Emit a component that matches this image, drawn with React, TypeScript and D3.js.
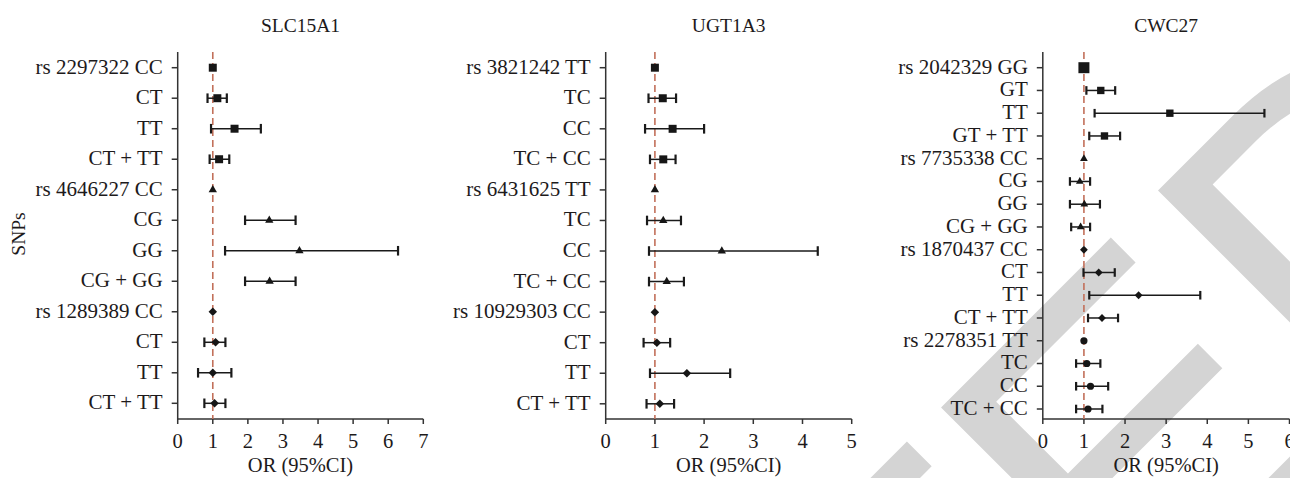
import * as d3 from 'd3'
import React, { useEffect, useRef } from 'react'

// SLC15A1
const slcLabels = ['rs 2297322 CC', 'CT', 'TT', 'CT + TT', 'rs 4646227 CC', 'CG', 'GG', 'CG + GG', 'rs 1289389 CC', 'CT', 'TT', 'CT + TT']
const slcOR = [1, 1.13, 1.62, 1.18, 1, 2.61, 3.47, 2.62, 1, 1.08, 1, 1.05]
const slcLow = [null, 0.85, 0.95, 0.91, null, 1.92, 1.35, 1.92, null, 0.76, 0.58, 0.76]
const slcHigh = [null, 1.4, 2.37, 1.47, null, 3.36, 6.28, 3.36, null, 1.36, 1.53, 1.36]
const slcTicks = [0, 1, 2, 3, 4, 5, 6, 7]

// UGT1A3
const ugtLabels = ['rs 3821242 TT', 'TC', 'CC', 'TC + CC', 'rs 6431625 TT', 'TC', 'CC', 'TC + CC', 'rs 10929303 CC', 'CT', 'TT', 'CT + TT']
const ugtOR = [1, 1.16, 1.36, 1.17, 1, 1.17, 2.36, 1.24, 1, 1.04, 1.65, 1.1]
const ugtLow = [null, 0.87, 0.8, 0.9, null, 0.84, 0.88, 0.88, null, 0.77, 0.9, 0.83]
const ugtHigh = [null, 1.43, 2.0, 1.42, null, 1.53, 4.31, 1.59, null, 1.31, 2.53, 1.39]
const ugtTicks = [0, 1, 2, 3, 4, 5]

// CWC27
const cwcLabels = ['rs 2042329 GG', 'GT', 'TT', 'GT + TT', 'rs 7735338 CC', 'CG', 'GG', 'CG + GG', 'rs 1870437 CC', 'CT', 'TT', 'CT + TT', 'rs 2278351 TT', 'TC', 'CC', 'TC + CC']
const cwcOR = [1, 1.41, 3.09, 1.5, 1, 0.9, 1.01, 0.92, 1, 1.36, 2.33, 1.44, 1, 1.07, 1.16, 1.1]
const cwcLow = [null, 1.06, 1.26, 1.13, null, 0.66, 0.66, 0.69, null, 0.99, 1.13, 1.1, null, 0.81, 0.81, 0.81]
const cwcHigh = [null, 1.76, 5.39, 1.88, null, 1.15, 1.39, 1.15, null, 1.75, 3.83, 1.83, null, 1.4, 1.59, 1.45]
const cwcTicks = [0, 1, 2, 3, 4, 5, 6]

const genes = ['SLC15A1', 'UGT1A3', 'CWC27']

const FONT = '"Liberation Serif", "Times New Roman", serif'
const INK = '#1d1a1b'

export default function App() {
  const ref = useRef(null)

  useEffect(() => {
    const svg = d3.select(ref.current)
    svg.selectAll('*').remove()

    // watermark behind everything
    svg.append('text')
      .attr('transform', 'translate(1590,206) rotate(-45)')
      .attr('text-anchor', 'end')
      .style('font-family', '"Liberation Sans", Arial, sans-serif')
      .style('font-size', '460px')
      .style('fill', '#d4d4d4')
      .text('RETRACTED')

    const panels = [
      { labels: slcLabels, or: slcOR, low: slcLow, high: slcHigh, ticks: slcTicks, x0: 177.7, x1: 423.3, yFirst: 67.7, yLast: 403.3, k: 1 },
      { labels: ugtLabels, or: ugtOR, low: ugtLow, high: ugtHigh, ticks: ugtTicks, x0: 605.7, x1: 851.7, yFirst: 67.7, yLast: 403.8, k: 1 },
      { labels: cwcLabels, or: cwcOR, low: cwcLow, high: cwcHigh, ticks: cwcTicks, x0: 1042.8, x1: 1289.5, yFirst: 67.7, yLast: 409, k: 0.85 },
    ]
    const symbols = [d3.symbolSquare, d3.symbolTriangle, d3.symbolDiamond2 || d3.symbolDiamond, d3.symbolCircle]
    const symSize = [64, 30, 46, 48]
    const axisTop = 52
    const axisBottom = 419

    panels.forEach((p, pi) => {
      const g = svg.append('g')
      const x = d3.scaleLinear().domain([0, p.ticks[p.ticks.length - 1]]).range([p.x0, p.x1])
      const y = d3.scalePoint().domain(p.labels.map((d, i) => i)).range([p.yFirst, p.yLast])

      // title
      g.append('text')
        .attr('x', (p.x0 + p.x1) / 2)
        .attr('y', 31.5)
        .attr('text-anchor', 'middle')
        .style('font-family', FONT)
        .style('font-size', '19.5px')
        .style('fill', INK)
        .text(genes[pi])

      // axes
      g.append('line')
        .attr('x1', p.x0).attr('x2', p.x0)
        .attr('y1', axisTop).attr('y2', axisBottom)
        .style('stroke', '#333').style('stroke-width', 1.5)
      g.append('line')
        .attr('x1', p.x0).attr('x2', p.x1)
        .attr('y1', axisBottom).attr('y2', axisBottom)
        .style('stroke', '#333').style('stroke-width', 1.5)

      g.selectAll('.xtick')
        .data(p.ticks)
        .enter().append('line')
        .attr('x1', d => x(d)).attr('x2', d => x(d))
        .attr('y1', axisBottom).attr('y2', axisBottom + 5)
        .style('stroke', '#333').style('stroke-width', 1.5)
      g.selectAll('.xlab')
        .data(p.ticks)
        .enter().append('text')
        .attr('x', d => x(d))
        .attr('y', 448)
        .attr('text-anchor', 'middle')
        .style('font-family', FONT)
        .style('font-size', '20.5px')
        .style('fill', INK)
        .text(d => d)

      g.selectAll('.ytick')
        .data(p.labels)
        .enter().append('line')
        .attr('x1', p.x0 - 6).attr('x2', p.x0)
        .attr('y1', (d, i) => y(i)).attr('y2', (d, i) => y(i))
        .style('stroke', '#333').style('stroke-width', 1.5)
      g.selectAll('.ylab')
        .data(p.labels)
        .enter().append('text')
        .attr('x', p.x0 - 15)
        .attr('y', (d, i) => y(i) + 6)
        .attr('text-anchor', 'end')
        .style('font-family', FONT)
        .style('font-size', '21px')
        .style('fill', INK)
        .text(d => d)

      g.append('text')
        .attr('x', (p.x0 + p.x1) / 2)
        .attr('y', 472)
        .attr('text-anchor', 'middle')
        .style('font-family', FONT)
        .style('font-size', '20.5px')
        .style('fill', INK)
        .text('OR (95%CI)')

      // reference line at OR = 1
      g.append('line')
        .attr('x1', x(1)).attr('x2', x(1))
        .attr('y1', axisTop).attr('y2', axisBottom)
        .style('stroke', '#c2705a')
        .style('stroke-width', 1.6)
        .style('stroke-dasharray', '7,4')

      // confidence intervals
      const rows = p.or.map((v, i) => ({ i, v, lo: p.low[i], hi: p.high[i] }))
      const ci = rows.filter(d => d.lo != null)
      const capH = pi === 2 ? 4.3 : 4.8
      g.selectAll('.ci')
        .data(ci)
        .enter().append('line')
        .attr('x1', d => x(d.lo)).attr('x2', d => x(d.hi))
        .attr('y1', d => y(d.i)).attr('y2', d => y(d.i))
        .style('stroke', '#1a1a1a').style('stroke-width', 1.5)
      ;['lo', 'hi'].forEach(k => {
        g.selectAll('.cap-' + k)
          .data(ci)
          .enter().append('line')
          .attr('x1', d => x(d[k])).attr('x2', d => x(d[k]))
          .attr('y1', d => y(d.i) - capH).attr('y2', d => y(d.i) + capH)
          .style('stroke', '#1a1a1a').style('stroke-width', 2.2)
      })

      // point estimates
      g.selectAll('.pt')
        .data(rows)
        .enter().append('path')
        .attr('transform', d => 'translate(' + x(d.v) + ',' + y(d.i) + ')')
        .attr('d', d => {
          const s = Math.floor(d.i / 4)
          let size = symSize[s] * p.k
          if (pi === 2 && d.i === 0) size = 121
          return d3.symbol().type(symbols[s]).size(size)()
        })
        .style('fill', '#161616')
    })

    svg.append('text')
      .attr('transform', 'translate(25,234) rotate(-90)')
      .attr('text-anchor', 'middle')
      .style('font-family', FONT)
      .style('font-size', '19.5px')
      .style('fill', INK)
      .text('SNPs')
  }, [])

  return (
    <svg
      ref={ref}
      width={1290}
      height={478}
      style={{ position: 'absolute', left: 0, top: 0, background: '#fff' }}
    />
  )
}
